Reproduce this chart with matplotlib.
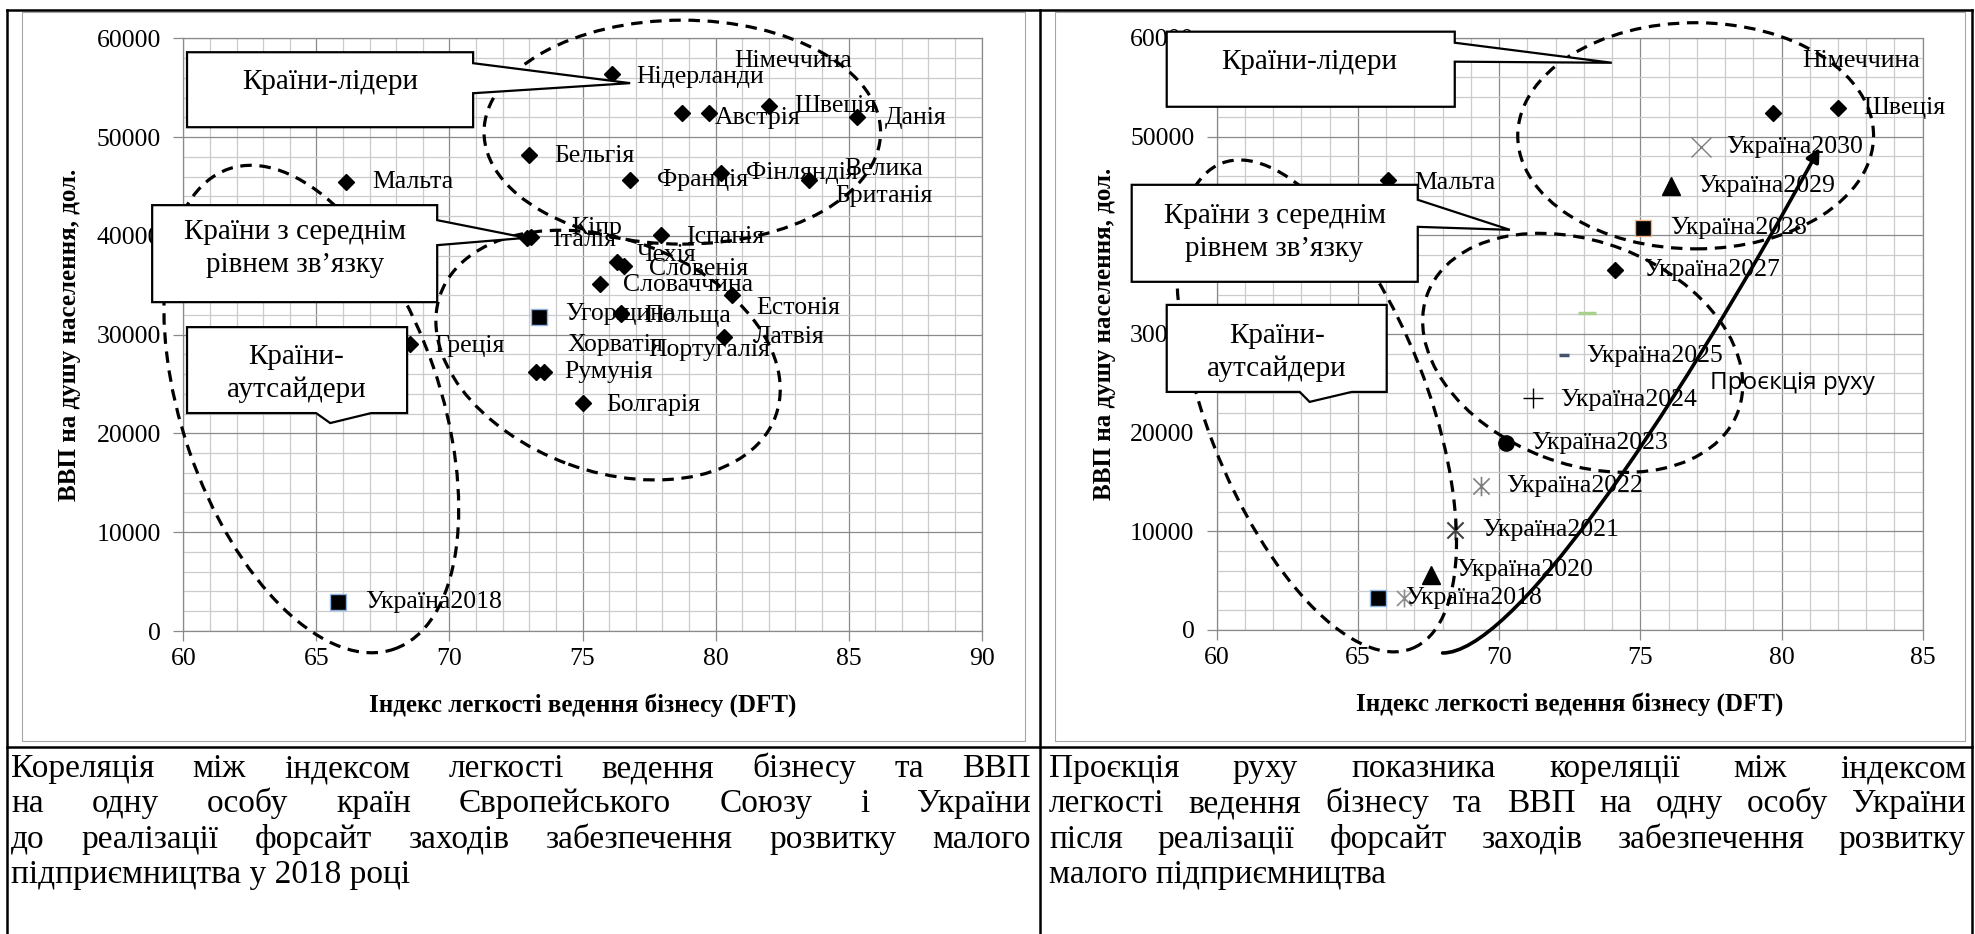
import matplotlib
matplotlib.use("Agg")
import matplotlib.pyplot as plt
import numpy as np
from matplotlib.patches import Ellipse, Polygon, Rectangle, FancyArrowPatch
from matplotlib.path import Path
from matplotlib.lines import Line2D
from matplotlib.transforms import Affine2D

W, H = 1975, 934
SERIF = ["Liberation Serif", "DejaVu Serif"]
SANS = ["Open Sans", "DejaVu Sans"]
plt.rcParams["font.family"] = SERIF

# ---- left chart: EU countries, 2018
eu_names = ["Нідерланди", "Австрія", "Німеччина", "Швеція", "Данія", "Бельгія",
            "Франція", "Фінляндія", "Велика\nБританія", "Мальта", "Кіпр", "Італія",
            "Іспанія", "Чехія", "Словенія", "Словаччина", "Естонія", "Польща",
            "Португалія", "Латвія", "Греція", "Хорватія", "Румунія", "Болгарія"]
eu_dft = [76.1, 78.75, 79.75, 82.0, 85.3, 73.0, 76.8, 80.2, 83.5, 66.1, 72.9, 73.05,
          77.95, 76.3, 76.55, 75.65, 80.6, 76.45, 76.45, 80.3, 68.5, 73.25, 73.55, 75.0]
eu_gdp = [56400, 52400, 52400, 53100, 52050, 48200, 45650, 46400, 45650, 45500, 39750, 39900,
          40100, 37400, 36900, 35100, 34000, 32150, 32050, 29800, 29100, 26250, 26250, 23050]
sq_names = ["Угорщина", "Україна2018"]
sq_dft = [73.35, 65.8]
sq_gdp = [31800, 2900]

# ---- right chart: Ukraine projection 2018-2030 and some EU countries
eu2_names = ["Мальта", "Німеччина", "Швеція"]
eu2_dft = [66.05, 79.7, 82.0]
eu2_gdp = [45600, 52400, 52900]
ua_names = ["Україна2018", "Україна2019", "Україна2020", "Україна2021", "Україна2022",
            "Україна2023", "Україна2024", "Україна2025", "Україна2026", "Україна2027",
            "Україна2028", "Україна2029", "Україна2030"]
ua_dft = [65.7, 66.65, 67.6, 68.45, 69.35, 70.25, 71.2, 72.3, 73.1, 74.1, 75.1, 76.1, 77.15]
ua_gdp = [3200, 3200, 5600, 10150, 14550, 18950, 23500, 27900, 32150, 36500, 40750, 44950, 49000]
ua_hidden_labels = ["Україна2019", "Україна2026"]

# label offsets in pixels (dx, dy)
left_offsets = {"Нідерланди": (25, -3), "Австрія": (32, -5), "Німеччина": (25, 52),
                "Швеція": (25, 0), "Данія": (28, -1), "Бельгія": (25, -1), "Франція": (27, 0),
                "Фінляндія": (25, 0), "Мальта": (27, 0), "Кіпр": (45, 10), "Італія": (21, -3),
                "Іспанія": (25, -2), "Чехія": (20, 7), "Словенія": (25, -3),
                "Словаччина": (23, -1), "Естонія": (25, -13), "Польща": (23, -3),
                "Португалія": (27, -36), "Латвія": (30, 0), "Греція": (25, -2),
                "Хорватія": (32, 27), "Румунія": (20, 0), "Болгарія": (24, -2),
                "Угорщина": (27, 3), "Україна2018": (28, 0)}
right_offsets = {"Мальта": (27, -3), "Німеччина": (29, 52), "Швеція": (25, 0),
                 "Україна2018": (28, 0), "Україна2020": (25, 5), "Україна2021": (27, 0),
                 "Україна2022": (25, 0), "Україна2023": (25, 0), "Україна2024": (27, -2),
                 "Україна2025": (22, -1), "Україна2027": (28, 0), "Україна2028": (27, 0),
                 "Україна2029": (27, 0), "Україна2030": (25, 0)}

star = Path([(-0.5, -0.5), (0.5, 0.5), (-0.5, 0.5), (0.5, -0.5), (0, -0.6), (0, 0.6)],
            [Path.MOVETO, Path.LINETO] * 3)
ua_styles = {
    "Україна2018": dict(marker="s", ms=12, mfc="black", mec="#8eb4e3", mew=1),
    "Україна2019": dict(marker=star, ms=13, mfc="none", mec="#8c8c8c", mew=1.2),
    "Україна2020": dict(marker="^", ms=13, mfc="black", mec="black", mew=1),
    "Україна2021": dict(marker=star, ms=14, mfc="none", mec="#404040", mew=1.5),
    "Україна2022": dict(marker=star, ms=14, mfc="none", mec="#7f7f7f", mew=1.2),
    "Україна2023": dict(marker="o", ms=11, mfc="black", mec="black", mew=1),
    "Україна2024": dict(marker="+", ms=14, mfc="none", mec="black", mew=1),
    "Україна2025": dict(marker="_", ms=7, mfc="none", mec="#44546a", mew=2.5),
    "Україна2026": dict(marker="_", ms=13, mfc="none", mec="#a9d18e", mew=2.5),
    "Україна2027": dict(marker="D", ms=8.3, mfc="black", mec="black", mew=1),
    "Україна2028": dict(marker="s", ms=12, mfc="black", mec="#f4b183", mew=1),
    "Україна2029": dict(marker="^", ms=13, mfc="black", mec="black", mew=1),
    "Україна2030": dict(marker="x", ms=14, mfc="none", mec="#7f7f7f", mew=1),
}

# annotation shapes (data units): centre x, centre y, width, height, screen rotation
left_ellipses = [(78.75, 50500, 14.9, 22670, 0), (75.96, 27930, 13.4, 23480, -20),
                 (64.81, 22470, 9.7, 51410, 19)]
right_ellipses = [(76.96, 50090, 12.6, 22920, 0), (72.96, 28090, 11.76, 22510, -21),
                  (63.54, 22710, 7.8, 52830, 21.4)]
# callouts: (left, right, top, bottom), wedge side, wedge pair, tip, text position, text
left_callouts = [
    ((60.14, 70.89, 58590, 51000), "right", (57480, 54440), (76.79, 55460), (65.53, 55560), "Країни-лідери"),
    ((58.83, 69.54, 43110, 33290), "right", (41590, 39060), (72.88, 39800), (64.2, 38710), "Країни з середнім\nрівнем зв’язку"),
    ((60.14, 68.41, 30760, 22060), "bottom", (64.99, 67.06), (65.52, 21050), (64.24, 26060), "Країни-\nаутсайдери"),
]
right_callouts = [
    ((58.23, 68.43, 60640, 53030), "right", (59520, 57600), (73.99, 57490), (63.29, 57600), "Країни-лідери"),
    ((56.99, 67.12, 45120, 35290), "right", (43600, 40860), (70.38, 40560), (62.05, 40300), "Країни з середнім\nрівнем зв’язку"),
    ((58.23, 66.02, 32950, 24130), "bottom", (62.94, 64.78), (63.29, 23120), (62.12, 28135), "Країни-\nаутсайдери"),
]
# projection arrow (cubic Bezier control points)
proj_x = [68.0, 70.38, 75.69, 81.35]
proj_y = [-2330, -2330, 19270, 48870]

left_caption = ["Кореляція між індексом легкості ведення бізнесу та ВВП",
                "на одну особу країн Європейського Союзу і України",
                "до реалізації форсайт заходів забезпечення розвитку малого",
                "підприємництва у 2018 році"]
right_caption = ["Проєкція руху показника кореляції між індексом",
                 "легкості ведення бізнесу та ВВП на одну особу України",
                 "після реалізації форсайт заходів забезпечення розвитку",
                 "малого підприємництва"]

fig = plt.figure(figsize=(W / 100, H / 100), dpi=100)
PX = Affine2D().scale(1 / W, -1 / H).translate(0, 1) + fig.transFigure


def setup(ax, xmax):
    ax.set_xlim(60, xmax)
    ax.set_ylim(0, 60000)
    ax.set_xticks(np.arange(60, xmax + 1, 5))
    ax.set_yticks(np.arange(0, 60001, 10000))
    ax.set_xticks(np.arange(60, xmax + 0.5, 1), minor=True)
    ax.set_yticks(np.arange(0, 60001, 2000), minor=True)
    ax.grid(which="minor", color="#cbcbcb", lw=0.9)
    ax.grid(which="major", color="#8a8a8a", lw=0.9)
    ax.set_axisbelow(True)
    ax.tick_params(which="major", direction="out", length=7, width=0.9, color="#8a8a8a",
                   labelsize=18.5, pad=5)
    ax.tick_params(axis="y", which="major", pad=9)
    ax.tick_params(which="minor", length=0)
    for s in ax.spines.values():
        s.set_color("#8a8a8a")
        s.set_linewidth(0.9)
    ax.set_xlabel("Індекс легкості ведення бізнесу (DFT)", fontsize=18, fontweight="bold", va="center")
    ax.set_ylabel("ВВП на душу населення, дол.", fontsize=18, fontweight="bold", va="center")
    ax.xaxis.set_label_coords(0.5, -0.1245)


def label(ax, name, x, y, off):
    dx, dy = off
    ax.annotate(name, (x, y), xytext=(dx, dy), textcoords="offset pixels", va="center",
                ha="left", fontsize=18.5, zorder=4, annotation_clip=False)


def ellipses(ax, shapes):
    for cx, cy, w, h, ang in shapes:
        e = Ellipse((cx, cy), w, h, fill=False, ec="black", lw=2.3, ls=(0, (3.6, 2.4)),
                    clip_on=False, zorder=6)
        px, py = ax.transData.transform((cx, cy))
        e.set_transform(ax.transData + Affine2D().rotate_deg_around(px, py, ang))
        ax.add_patch(e)


def callouts(ax, items):
    for (l, r, t, b), side, wedge, tip, txy, text in items:
        if side == "right":
            verts = [(l, t), (r, t), (r, wedge[0]), tip, (r, wedge[1]), (r, b), (l, b)]
        else:
            verts = [(l, t), (r, t), (r, b), (wedge[1], b), tip, (wedge[0], b), (l, b)]
        fig.add_artist(Polygon(verts, closed=True, fc="white", ec="black", lw=1.6,
                               transform=ax.transData, zorder=5))
        fig.text(txy[0], txy[1], text, transform=ax.transData, ha="center", va="center",
                 fontsize=21, linespacing=1.35, zorder=6)


# ---------------- left chart
axl = fig.add_axes([183.3 / W, (H - 631) / H, (981.7 - 183.3) / W, (631 - 38.3) / H])
setup(axl, 90)
axl.yaxis.set_label_coords((70 - 183.3) / 798.4, 0.5)
axl.plot(eu_dft, eu_gdp, ls="none", marker="D", ms=8.3, color="black", zorder=3, clip_on=False)
axl.plot(sq_dft, sq_gdp, ls="none", marker="s", ms=12, mfc="black", mec="#8eb4e3", mew=1,
         zorder=3, clip_on=False)
for n, x, y in zip(eu_names + sq_names, eu_dft + sq_dft, eu_gdp + sq_gdp):
    if n == "Велика\nБританія":
        axl.annotate(n, (x, y), xytext=(75, -2), textcoords="offset pixels", va="center",
                     ha="center", fontsize=18.5, linespacing=1.3, zorder=4)
    else:
        label(axl, n, x, y, left_offsets[n])
ellipses(axl, left_ellipses)
callouts(axl, left_callouts)

# ---------------- right chart
axr = fig.add_axes([1216.7 / W, (H - 630) / H, (1922.7 - 1216.7) / W, (630 - 38) / H])
setup(axr, 85)
axr.yaxis.set_label_coords((1105 - 1216.7) / 706, 0.5)
axr.plot(eu2_dft, eu2_gdp, ls="none", marker="D", ms=8.3, color="black", zorder=3)
for n, x, y in zip(eu2_names, eu2_dft, eu2_gdp):
    label(axr, n, x, y, right_offsets[n])
for n, x, y in zip(ua_names, ua_dft, ua_gdp):
    axr.plot([x], [y], ls="none", zorder=3, clip_on=False, **ua_styles[n])
    if n not in ua_hidden_labels:
        label(axr, n, x, y, right_offsets[n])
ellipses(axr, right_ellipses)
callouts(axr, right_callouts)
proj = Path(list(zip(proj_x, proj_y)), [Path.MOVETO, Path.CURVE4, Path.CURVE4, Path.CURVE4])
axr.add_patch(FancyArrowPatch(path=proj, arrowstyle="-|>", mutation_scale=20, lw=2.6,
                              color="black", transform=axr.transData, clip_on=False, zorder=7))
axr.text(77.46, 25050, "Проєкція руху", family=SANS, fontsize=17.5, va="center", ha="left",
         zorder=7)

# ---------------- table frame and captions
for x0, x1 in [(22, 1025), (1055, 1965)]:
    fig.add_artist(Rectangle((x0, 12), x1 - x0, 729, transform=PX, fill=False,
                             ec="#a6a6a6", lw=0.8, zorder=1))
for (x0, y0), (x1, y1) in [((7, 10), (1972, 10)), ((7, 10), (7, 934)), ((1972, 10), (1972, 934)),
                           ((1040, 10), (1040, 934)), ((7, 747), (1972, 747))]:
    fig.add_artist(Line2D([x0, x1], [y0, y1], transform=PX, color="black", lw=1.8, zorder=2))

renderer = fig.canvas.get_renderer()
CAP_SIZE = 24


def caption(lines, x0, x1, y0, step):
    for i, line in enumerate(lines):
        y = y0 + i * step
        if i == len(lines) - 1:
            fig.text(x0, y, line, transform=PX, fontsize=CAP_SIZE, va="baseline", ha="left")
            continue
        words = line.split()
        texts = [fig.text(0, y, w, transform=PX, fontsize=CAP_SIZE, va="baseline", ha="left")
                 for w in words]
        widths = [t.get_window_extent(renderer).width for t in texts]
        gap = max((x1 - x0 - sum(widths)) / (len(words) - 1), 4)
        x = x0
        for t, w in zip(texts, widths):
            t.set_x(x)
            x += w + gap


caption(left_caption, 11, 1031, 777, 35.3)
caption(right_caption, 1049, 1966, 777, 35.3)

fig.savefig("out.png", dpi=100)
